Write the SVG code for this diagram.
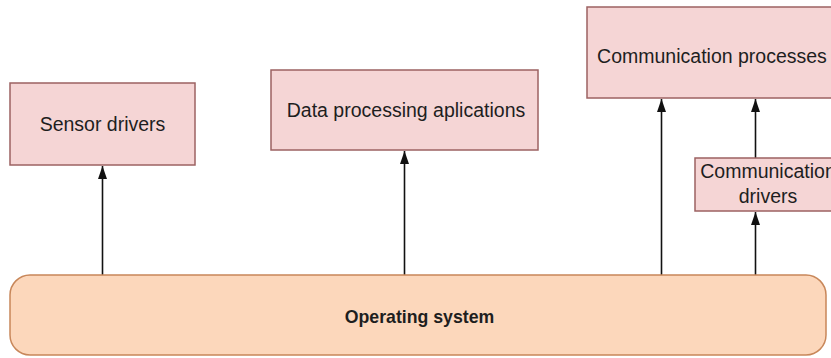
<svg xmlns="http://www.w3.org/2000/svg" width="831" height="358" viewBox="0 0 831 358">
  <style>
    .box { fill: #f5d5d5; stroke: #9c6262; stroke-width: 1.5; }
    .os { fill: #fcd7bb; stroke: #c8875a; stroke-width: 1.5; }
    .lbl { font-family: "Liberation Sans", Arial, sans-serif; font-size: 19.5px; fill: #1e1e1e; text-anchor: middle; }
    .bold { font-weight: bold; font-size: 17.7px; }
    .edge { stroke: #111; stroke-width: 1.6; fill: none; marker-end: url(#arrow); }
  </style>
  <defs>
    <marker id="arrow" viewBox="0 0 13 9" refX="13" refY="4.5" markerWidth="13" markerHeight="9" markerUnits="userSpaceOnUse" orient="auto">
      <path d="M0,0 L13,4.5 L0,9 Z" fill="#111"/>
    </marker>
  </defs>
  <rect width="831" height="358" fill="#fff"/>

  <g id="connectors">
    <line class="edge" x1="102.5" y1="275" x2="102.5" y2="166"/>
    <line class="edge" x1="404.5" y1="275" x2="404.5" y2="151"/>
    <line class="edge" x1="661.5" y1="275" x2="661.5" y2="99"/>
    <line class="edge" x1="755.5" y1="275" x2="755.5" y2="212"/>
    <line class="edge" x1="755.5" y1="158" x2="755.5" y2="99"/>
  </g>

  <g id="sensor-drivers">
    <rect class="box" x="10" y="83" width="185" height="82"/>
    <text class="lbl" x="102.5" y="131">Sensor drivers</text>
  </g>

  <g id="data-processing">
    <rect class="box" x="271" y="70" width="267" height="80"/>
    <text class="lbl" x="406" y="117">Data processing aplications</text>
  </g>

  <g id="communication-processes">
    <rect class="box" x="587" y="7" width="260" height="91"/>
    <text class="lbl" x="712" y="63">Communication processes</text>
  </g>

  <g id="communication-drivers">
    <rect class="box" x="695" y="158" width="150" height="53"/>
    <text class="lbl" x="768" y="178">Communication</text>
    <text class="lbl" x="768" y="203">drivers</text>
  </g>

  <g id="operating-system">
    <rect class="os" x="10" y="275" width="816" height="80" rx="20" ry="20"/>
    <text class="lbl bold" x="419.5" y="323">Operating system</text>
  </g>
</svg>
